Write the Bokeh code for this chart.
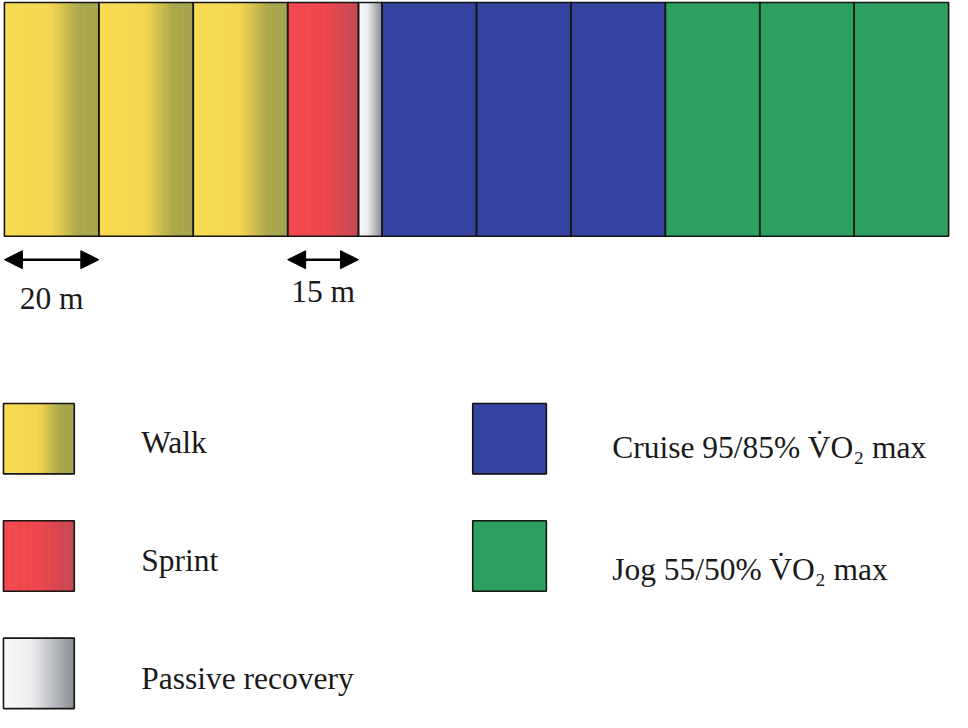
import numpy as np
from bokeh.plotting import figure
from bokeh.models import Range1d, Arrow, NormalHead
from bokeh.core.properties import value
from bokeh.embed import file_html
from bokeh.resources import INLINE

# ---------------- data ----------------
segment_activity = ["Walk", "Walk", "Walk", "Sprint", "Passive recovery",
                    "Cruise", "Cruise", "Cruise", "Jog", "Jog", "Jog"]
segment_length_m = [20, 20, 20, 15, 5, 20, 20, 20, 20, 20, 20]
scale_segment_index = [0, 3]
scale_labels = ["20 m", "15 m"]
legend_activity = ["Walk", "Sprint", "Passive recovery", "Cruise", "Jog"]
legend_labels = ["Walk", "Sprint", "Passive recovery",
                 "Cruise 95/85% V\u0307O\u2082 max", "Jog 55/50% V\u0307O\u2082 max"]

# ---------------- styles ----------------
FILL = {
    "Walk": [(0.0, (248, 220, 82)), (0.5, (243, 214, 80)), (0.8, (170, 166, 74)), (1.0, (166, 164, 80))],
    "Sprint": [(0.0, (242, 72, 78)), (0.5, (238, 70, 76)), (1.0, (198, 72, 82))],
    "Passive recovery": [(0.0, (250, 250, 250)), (0.4, (236, 237, 240)), (1.0, (138, 143, 150))],
    "Cruise": [(0.0, (52, 66, 160)), (1.0, (52, 66, 160))],
    "Jog": [(0.0, (44, 160, 95)), (1.0, (44, 160, 95))],
}
FONT = value("Liberation Serif")
FSIZE = "31.5px"

def col(stops, t):
    for (t0, c0), (t1, c1) in zip(stops[:-1], stops[1:]):
        if t0 <= t <= t1:
            f = 0 if t1 == t0 else (t - t0) / (t1 - t0)
            c = [int(round(a + (b - a) * f)) for a, b in zip(c0, c1)]
            return "#%02x%02x%02x" % tuple(c)
    c = stops[-1][1]
    return "#%02x%02x%02x" % tuple(c)

p = figure(width=952, height=712, output_backend="svg", toolbar_location=None,
           x_range=Range1d(-0.83, 200.83), y_range=Range1d(0, 728),
           x_axis_location=None, y_axis_location=None, min_border=0)
p.grid.visible = False
p.outline_line_color = None
p.background_fill_color = "white"
p.border_fill_color = "white"

def gradient_box(left, right, bottom, top, activity, n=40):
    stops = FILL[activity]
    if len(set(c for _, c in stops)) == 1:
        n = 1
    edges = np.linspace(left, right, n + 1)
    colors = [col(stops, (i + 0.5) / n) for i in range(n)]
    p.quad(left=edges[:-1], right=edges[1:], bottom=bottom, top=top,
           fill_color=colors, line_color=colors, line_width=0.8)

# ---------------- bar ----------------
starts = np.concatenate([[0], np.cumsum(segment_length_m)[:-1]])
ends = starts + np.array(segment_length_m)
BAR_BOTTOM, BAR_TOP = 487, 726
for s, e, a in zip(starts, ends, segment_activity):
    gradient_box(s, e, BAR_BOTTOM, BAR_TOP, a)
p.quad(left=starts, right=ends, bottom=BAR_BOTTOM, top=BAR_TOP,
       fill_color=None, line_color="#151515", line_width=1.6)

# ---------------- scale arrows ----------------
ARROW_Y = 463
label_y = [423, 430]
for idx, lab, ly in zip(scale_segment_index, scale_labels, label_y):
    head = dict(size=18, fill_color="black", line_color="black")
    p.add_layout(Arrow(x_start=starts[idx], y_start=ARROW_Y, x_end=ends[idx], y_end=ARROW_Y,
                       start=NormalHead(**head), end=NormalHead(**head),
                       line_color="black", line_width=2.5))
    p.text(x=[(starts[idx] + ends[idx]) / 2], y=[ly], text=[lab], text_font=FONT,
           text_font_size=FSIZE, text_align="center", text_baseline="alphabetic",
           text_color="#1a1a1a")

# ---------------- legend ----------------
box_left = [-0.2, -0.2, -0.2, 99.2, 99.2]
box_right = [14.8, 14.8, 14.8, 114.8, 114.8]
box_top = [316, 196, 76, 316, 196]
box_bottom = [244, 124, 4, 244, 124]
text_x = [28.96, 28.96, 28.96, 128.75, 128.75]
text_y = [276, 155, 35, 271, 146]
for a, l, r, b, t in zip(legend_activity, box_left, box_right, box_bottom, box_top):
    gradient_box(l, r, b, t, a, n=30)
p.quad(left=box_left, right=box_right, bottom=box_bottom, top=box_top,
       fill_color=None, line_color="#151515", line_width=1.6)
p.text(x=text_x, y=text_y, text=legend_labels, text_font=FONT, text_font_size=FSIZE,
       text_align="left", text_baseline="alphabetic", text_color="#1a1a1a")

open("out.html", "w").write(file_html(p, INLINE))
